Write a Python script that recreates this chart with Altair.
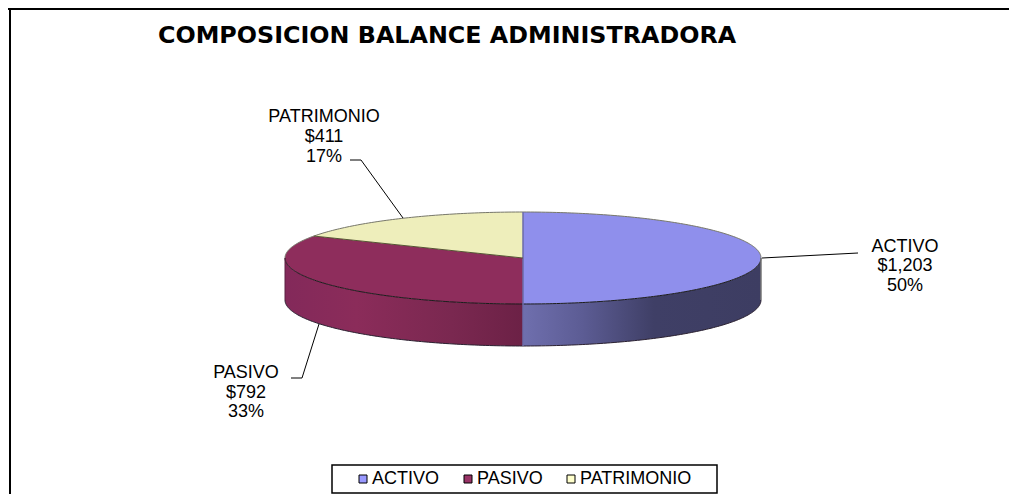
import math
import altair as alt

NAMES = ["ACTIVO", "PASIVO", "PATRIMONIO"]
VALUES = [1203, 792, 411]
PERCENTS = ["50%", "33%", "17%"]
TOP_COLORS = ["#8F8FEC", "#8E2D5C", "#EEEEBB"]
LEGEND_COLORS = ["#9999FF", "#993366", "#FFFFCC"]

# layout (page pixels)
OX, OY = 8, 8
CX, CY, RX, RY, DEPTH = 523, 258, 238, 46, 42
FONT = "Liberation Sans"
TITLE_FONT = "DejaVu Sans"

total = sum(VALUES)
edges = [0.0]
for v in VALUES:
    edges.append(edges[-1] + 360.0 * v / total)


def in_range(x, y, a0, a1):
    if abs(x) < 1e-12 and abs(y) < 1e-12:
        return True
    a = math.degrees(math.atan2(x, y)) % 360
    return any(a0 - 1e-6 <= t <= a1 + 1e-6 for t in (a, a + 360))


def wedge(a0, a1):
    """Columns of a slice of the unit pie, angles clockwise from the top."""
    pts = [a0 + (a1 - a0) * i / 240 for i in range(241)]
    xs = sorted({round(math.sin(math.radians(a)), 9) for a in pts} | {0.0})
    lo, hi = min(math.sin(math.radians(a)) for a in pts), max(math.sin(math.radians(a)) for a in pts)
    rows = []
    for x in xs:
        if x < lo - 1e-6 or x > hi + 1e-6:
            continue
        rim = math.sqrt(max(0.0, 1 - x * x))
        cand = [rim, -rim]
        if abs(x) < 1e-9:
            cand.append(0.0)
        for a in (a0, a1):
            s, c = math.sin(math.radians(a)), math.cos(math.radians(a))
            if abs(s) > 1e-9:
                y = x * c / s
                if abs(y) <= rim + 1e-9 and x * s >= -1e-12:
                    cand.append(y)
        ok = [y for y in cand if in_range(x, y, a0, a1)]
        if ok:
            rows.append({"x": x, "y": max(ok), "y2": min(ok)})
    return rows


def rim_points(a0, a1, drop=0.0, n=200):
    return [
        {
            "x": math.sin(math.radians(a0 + (a1 - a0) * i / n)),
            "y": math.cos(math.radians(a0 + (a1 - a0) * i / n)) - drop,
        }
        for i in range(n + 1)
    ]


def wall(a0, a1):
    d = DEPTH / RY
    return [{"x": p["x"], "y": p["y"], "y2": p["y"] - d} for p in rim_points(a0, a1)]


x_scale = alt.Scale(domain=[-1, 1], range=[CX - RX - OX, CX + RX - OX], nice=False, zero=False)
y_scale = alt.Scale(domain=[-1, 1], range=[CY + RY - OY, CY - RY - OY], nice=False, zero=False)
X = alt.X("x:Q", scale=x_scale, axis=None)
Y = alt.Y("y:Q", scale=y_scale, axis=None)


def grad(stops):
    return alt.Gradient(
        gradient="linear", x1=0, x2=1, y1=0, y2=0,
        stops=[alt.GradientStop(offset=o, color=c) for o, c in stops],
    )


def area(rows, color):
    return alt.Chart(alt.Data(values=rows)).mark_area(color=color, interpolate="linear").encode(x=X, y=Y, y2="y2:Q")


def line(rows, color, width=1.0):
    return alt.Chart(alt.Data(values=rows)).mark_line(color=color, strokeWidth=width, interpolate="linear").encode(x=X, y=Y, order="i:Q")


def indexed(rows):
    return [dict(r, i=i) for i, r in enumerate(rows)]


def text(s, px, py, size=18, weight="normal"):
    return alt.Chart(alt.Data(values=[{"t": s}])).mark_text(
        font=FONT, fontSize=size, fontWeight=weight, color="#000000", align="center", baseline="middle"
    ).encode(x=alt.value(px - OX), y=alt.value(py - OY), text="t:N")


def seg(x1, y1, x2, y2, color="#000000", width=1.0):
    return alt.Chart(alt.Data(values=[{"a": 0}])).mark_rule(color=color, strokeWidth=width).encode(
        x=alt.value(x1 - OX), x2=alt.value(x2 - OX), y=alt.value(y1 - OY), y2=alt.value(y2 - OY)
    )


d = DEPTH / RY
layers = [
    area(wall(90, 180), grad([(0, "#6F6FAE"), (0.25, "#5C5C94"), (0.55, "#3F3F66"), (1, "#3D3D62")])),
    area(wall(180, 270), grad([(0, "#83295A"), (0.3, "#8B2C5A"), (0.7, "#7A2850"), (1, "#6C2146")])),
]
for i in range(3):
    layers.append(area(wedge(edges[i], edges[i + 1]), TOP_COLORS[i]))

layers += [
    line(indexed(rim_points(270, 450)), "#77776A", 1.0),
    line(indexed(rim_points(90, 270)), "#1A1A1A", 1.0),
    line(indexed(rim_points(90, 270, d)), "#2A2030", 1.0),
    seg(CX, CY - RY, CX, CY + RY + DEPTH, "#6B6BA8", 1.5),
    seg(CX, CY, CX + RX * math.sin(math.radians(edges[2])), CY - RY * math.cos(math.radians(edges[2])), "#555533", 1.0),
    seg(CX - RX, CY, CX - RX, CY + DEPTH, "#5A2040", 1.0),
    seg(CX + RX, CY, CX + RX, CY + DEPTH, "#777777", 1.5),
    # leader lines
    seg(403, 218, 361, 160),
    seg(361, 160, 350, 160),
    seg(762, 258, 858, 253),
    seg(319, 324, 302, 378),
    seg(302, 378, 291, 378),
    # frame
    seg(OX, OY + 1, 1009, OY + 1, "#000000", 2),
    seg(10, OY, 10, 494, "#000000", 2),
]

labels = [(905, [247, 266, 286]), (246, [373, 393, 412]), (324, [117, 137, 157])]
for i, (cx, ys) in enumerate(labels):
    layers += [
        text(NAMES[i], cx, ys[0]),
        text(f"${VALUES[i]:,}", cx, ys[1]),
        text(PERCENTS[i], cx, ys[2]),
    ]

# legend box
layers.append(
    alt.Chart(alt.Data(values=[{"a": 0}])).mark_rect(fill="#FFFFFF", stroke="#000000", strokeWidth=1.5).encode(
        x=alt.value(332 - OX), x2=alt.value(717 - OX), y=alt.value(465 - OY), y2=alt.value(493 - OY)
    )
)

legend_rows = [{"name": n, "x": 0, "y": 0} for n in NAMES]
layers.append(
    alt.Chart(alt.Data(values=legend_rows)).mark_square(opacity=0, size=1).encode(
        x=X, y=Y,
        color=alt.Color(
            "name:N",
            scale=alt.Scale(domain=NAMES, range=LEGEND_COLORS),
            legend=alt.Legend(
                title=None, orient="none", legendX=354 - OX, legendY=470 - OY, direction="horizontal",
                symbolType="square", symbolSize=64, symbolOpacity=1, symbolStrokeColor="#000000",
                symbolStrokeWidth=1, labelFont=FONT, labelFontSize=18, labelColor="#000000",
                labelOffset=0, columnPadding=19, padding=0, labelLimit=200,
            ),
        ),
    )
)

chart = alt.layer(*layers).properties(
    width=1009 - OX,
    height=494 - OY,
    padding=0,
    autosize=alt.AutoSizeParams(type="none"),
    background="#FFFFFF",
    title=alt.TitleParams(
        "COMPOSICION BALANCE ADMINISTRADORA", font=TITLE_FONT, fontSize=23.8, fontWeight="bold", color="#000000",
        anchor="start", frame="group", dx=150, dy=41, offset=0,
    ),
).configure_view(stroke=None)

chart.save("out.html", embed_options={"renderer": "svg", "actions": False})
